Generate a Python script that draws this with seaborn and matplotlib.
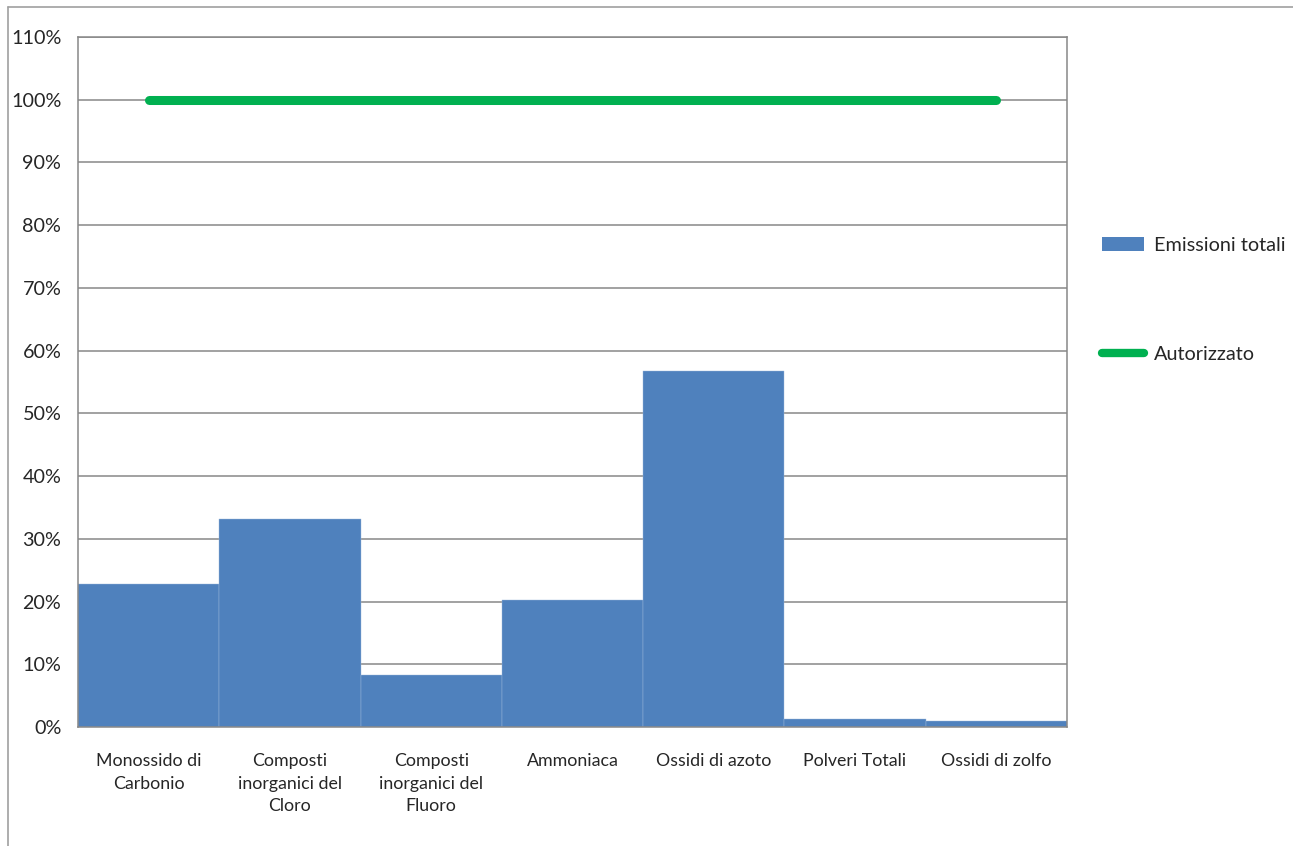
import matplotlib
matplotlib.use("Agg")
import matplotlib.pyplot as plt
import seaborn as sns
import pandas as pd
from matplotlib.lines import Line2D
from matplotlib.patches import Patch
from matplotlib.ticker import PercentFormatter

# data
categories = ["Monossido di\nCarbonio", "Composti\ninorganici del\nCloro",
              "Composti\ninorganici del\nFluoro", "Ammoniaca", "Ossidi di azoto",
              "Polveri Totali", "Ossidi di zolfo"]
emissioni = [0.228, 0.332, 0.083, 0.203, 0.568, 0.012, 0.010]
autorizzato = [1.0, 1.0, 1.0, 1.0, 1.0, 1.0, 1.0]

sns.set_theme(style="white")
plt.rcParams['font.family'] = ['Lato', 'DejaVu Sans']

df = pd.DataFrame({"categoria": categories, "emissioni": emissioni, "autorizzato": autorizzato})

fig = plt.figure(figsize=(12.93, 8.46), dpi=100)
ax = fig.add_axes([0.0603, 0.1407, 0.7649, 0.8156])

sns.barplot(data=df, x="categoria", y="emissioni", color="#4F81BD", width=1.0,
            saturation=1, edgecolor="#9DB8DB", linewidth=0.3, ax=ax, zorder=2)
ax.plot(range(len(categories)), df["autorizzato"], color="#00B050", lw=6.5,
        solid_capstyle="round", zorder=3)

ax.set_xlim(-0.5, len(categories) - 0.5)
ax.set_ylim(0, 1.10)
ax.set_yticks([i / 10 for i in range(12)])
ax.yaxis.set_major_formatter(PercentFormatter(1.0, decimals=0))
ax.yaxis.grid(True, color="#878787", lw=1.1, zorder=0)
ax.set_axisbelow(True)

ax.set_xticks([i - 0.5 for i in range(len(categories) + 1)])
ax.set_xticklabels([])
ax.set_xticks(range(len(categories)), minor=True)
ax.set_xticklabels(categories, minor=True, fontsize=12.8, linespacing=1.5, va="top")
ax.tick_params(axis="x", which="minor", length=0, pad=19)
ax.tick_params(axis="x", which="major", length=5, width=1.1, color="#878787", direction="out")
ax.tick_params(axis="y", length=5, width=1.1, color="#878787", direction="out",
               labelsize=14.2, pad=7)
ax.set_xlabel("")
ax.set_ylabel("")

for side in ["left", "right", "bottom", "top"]:
    ax.spines[side].set_visible(True)
    ax.spines[side].set_color("#878787")
    ax.spines[side].set_linewidth(1.1)

handles = [Patch(facecolor="#4F81BD", edgecolor="none", label="Emissioni totali"),
           Line2D([0], [0], color="#00B050", lw=6, solid_capstyle="round", label="Autorizzato")]
fig.legend(handles=handles, loc="upper left", bbox_to_anchor=(0.8462, 0.729),
           frameon=False, fontsize=14.3, labelspacing=4.6, handlelength=2.1,
           handletextpad=0.5, borderaxespad=0)

# outer chart frame (top and left edges visible in the reference)
fig.add_artist(Line2D([8 / 1293, 1], [1 - 7 / 846, 1 - 7 / 846], color="#A0A0A0", lw=1.2,
                      transform=fig.transFigure))
fig.add_artist(Line2D([8 / 1293, 8 / 1293], [0, 1 - 7 / 846], color="#A0A0A0", lw=1.2,
                      transform=fig.transFigure))

fig.savefig("out.png", dpi=100)
